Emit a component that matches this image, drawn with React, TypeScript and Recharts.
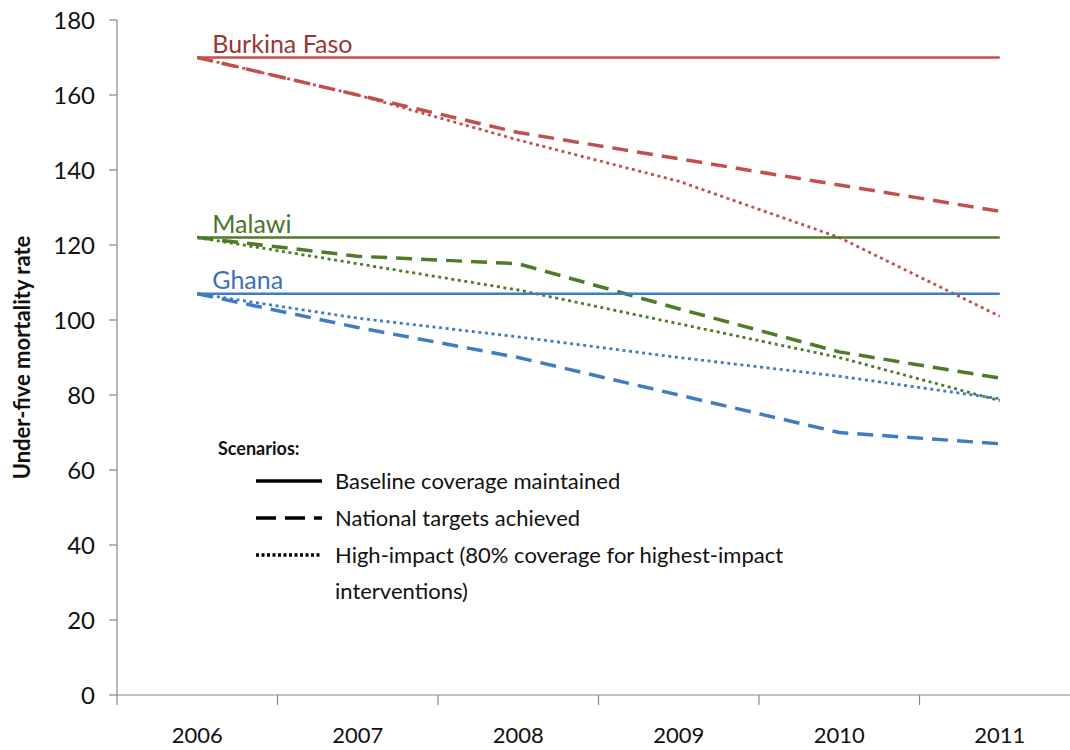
import React from "react";
import { LineChart, Line, XAxis, YAxis, LabelList } from "recharts";

// categories and axis ticks
const years = [2006, 2007, 2008, 2009, 2010, 2011];
const bandEdges = [2005.5, 2006.5, 2007.5, 2008.5, 2009.5, 2010.5, 2011.5];
const yTicks = [0, 20, 40, 60, 80, 100, 120, 140, 160, 180];

// under-five mortality rate per scenario
const burkinaBaseline = [170, 170, 170, 170, 170, 170];
const burkinaNational = [170, 160, 150, 143, 136, 129];
const burkinaHighImpact = [170, 160, 148, 137, 122, 101];

const malawiBaseline = [122, 122, 122, 122, 122, 122];
const malawiNational = [122, 117, 115, 103, 91.5, 84.5];
const malawiHighImpact = [122, 115, 108, 99, 90, 78.5];

const ghanaBaseline = [107, 107, 107, 107, 107, 107];
const ghanaNational = [107, 98, 90, 80, 70, 67];
const ghanaHighImpact = [107, 100.5, 95.5, 90, 85, 79];

const countries = ["Burkina Faso", "Malawi", "Ghana"];
const scenarios = [
  "Baseline coverage maintained",
  "National targets achieved",
  "High-impact (80% coverage for highest-impact interventions)",
];

const FONT = "Lato, 'Open Sans', sans-serif";
const AXIS = "#868686";
const TEXT = "#111";

const colors = {
  bf: { line: "#c0504d", label: "#9b3634" },
  mw: { line: "#4f7a28", label: "#4a7326" },
  gh: { line: "#3f7cc2", label: "#3a72b5" },
};

const DASH = "16 9";
const DOT = "3 3.6";

const data = years.map((year, i) => ({
  year,
  bfBase: burkinaBaseline[i],
  bfNat: burkinaNational[i],
  bfHigh: burkinaHighImpact[i],
  mwBase: malawiBaseline[i],
  mwNat: malawiNational[i],
  mwHigh: malawiHighImpact[i],
  ghBase: ghanaBaseline[i],
  ghNat: ghanaNational[i],
  ghHigh: ghanaHighImpact[i],
}));

const xTicks = [...bandEdges, ...years].sort((a, b) => a - b);

function XTick(props: any) {
  const { x, y, payload } = props;
  const v = payload.value;
  if (Number.isInteger(v)) {
    return (
      <text x={x} y={y + 48} textAnchor="middle" fill={TEXT} fontSize={22} fontFamily={FONT}>
        {v}
      </text>
    );
  }
  return <line x1={x} y1={y} x2={x} y2={y + 10} stroke={AXIS} strokeWidth={1.2} />;
}

const countryLabel = (name: string, color: string) => (props: any) => {
  if (props.index !== 0) return null;
  return (
    <text x={props.x + 15} y={props.y - 5} fill={color} fontSize={25} fontFamily={FONT}>
      {name}
    </text>
  );
};

function Swatch({ dash, width }: { dash?: string; width: number }) {
  return (
    <svg width={68} height={36} style={{ flex: "none" }}>
      <line x1={0} y1={18} x2={66} y2={18} stroke="#000" strokeWidth={width} strokeDasharray={dash} />
    </svg>
  );
}

function ScenarioLegend() {
  const styles = [
    { dash: undefined, width: 3.5 },
    { dash: "20 9", width: 3.5 },
    { dash: "3 2.5", width: 3.5 },
  ];
  return (
    <div
      style={{
        position: "absolute",
        left: 218,
        top: 436,
        fontFamily: FONT,
        color: TEXT,
      }}
    >
      <div style={{ fontWeight: 700, fontSize: 18, lineHeight: "24px", marginBottom: 3 }}>Scenarios:</div>
      {scenarios.map((s, i) => (
        <div
          key={s}
          style={{ display: "flex", alignItems: "flex-start", marginLeft: 38, marginTop: i === 0 ? 0 : 1 }}
        >
          <Swatch dash={styles[i].dash} width={styles[i].width} />
          <div style={{ marginLeft: 11, fontSize: 22, lineHeight: "36px", width: 490 }}>{s}</div>
        </div>
      ))}
    </div>
  );
}

export default function App() {
  const series = [
    { key: "bfBase", c: colors.bf, dash: undefined, w: 2.5, label: countries[0] },
    { key: "bfNat", c: colors.bf, dash: DASH, w: 3.5 },
    { key: "bfHigh", c: colors.bf, dash: DOT, w: 2.8 },
    { key: "mwBase", c: colors.mw, dash: undefined, w: 2.5, label: countries[1] },
    { key: "mwNat", c: colors.mw, dash: DASH, w: 3.5 },
    { key: "mwHigh", c: colors.mw, dash: DOT, w: 2.8 },
    { key: "ghBase", c: colors.gh, dash: undefined, w: 2.5, label: countries[2] },
    { key: "ghNat", c: colors.gh, dash: DASH, w: 3.5 },
    { key: "ghHigh", c: colors.gh, dash: DOT, w: 2.8 },
  ];

  return (
    <div
      style={{
        position: "absolute",
        left: 0,
        top: 0,
        width: 1070,
        height: 750,
        overflow: "hidden",
        background: "#fff",
      }}
    >
      <LineChart width={1080} height={750} data={data} margin={{ top: 20, right: 0, bottom: 0, left: 0 }}>
        <XAxis
          dataKey="year"
          type="number"
          domain={[2005.5, 2011.5]}
          ticks={xTicks}
          interval={0}
          tickLine={false}
          tickSize={0}
          tickMargin={0}
          tick={<XTick />}
          axisLine={{ stroke: AXIS, strokeWidth: 1.2 }}
          height={55}
        />
        <YAxis
          domain={[0, 180]}
          ticks={yTicks}
          interval={0}
          width={117}
          tickSize={8}
          tickMargin={14}
          tick={{ fontSize: 24, fill: TEXT, fontFamily: FONT }}
          tickLine={{ stroke: AXIS, strokeWidth: 1.2 }}
          axisLine={{ stroke: AXIS, strokeWidth: 1.2 }}
          label={{
            value: "Under-five mortality rate",
            angle: -90,
            position: "insideLeft",
            offset: 22,
            style: { textAnchor: "middle", fontSize: 22, fontWeight: 700, fill: TEXT, fontFamily: FONT },
          }}
        />
        {series.map((s) => (
          <Line
            key={s.key}
            type="linear"
            dataKey={s.key}
            stroke={s.c.line}
            strokeWidth={s.w}
            strokeDasharray={s.dash}
            dot={false}
            activeDot={false}
            isAnimationActive={false}
          >
            {s.label ? <LabelList dataKey={s.key} content={countryLabel(s.label, s.c.label)} /> : null}
          </Line>
        ))}
      </LineChart>
      <ScenarioLegend />
    </div>
  );
}
